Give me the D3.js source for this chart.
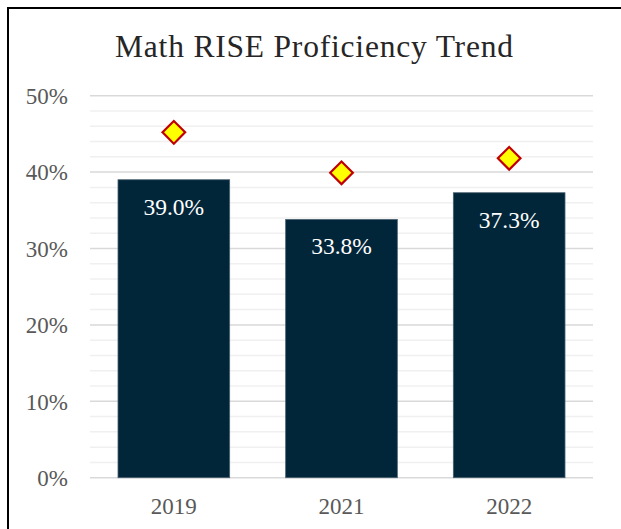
<!DOCTYPE html>
<html>
<head>
<meta charset="utf-8">
<script src="https://cdn.jsdelivr.net/npm/d3@7"></script>
<style>
  html, body { margin: 0; padding: 0; background: #fff; }
  svg { display: block; }
  svg text { font-family: "Liberation Serif", "Times New Roman", serif; }
</style>
</head>
<body>
<script>
const categories = ["2019", "2021", "2022"];
const proficiency = [39.0, 33.8, 37.3];
const target = [45.2, 39.9, 41.8];
const majorTicks = [0, 10, 20, 30, 40, 50];
const minorTicks = [2, 4, 6, 8, 12, 14, 16, 18, 22, 24, 26, 28, 32, 34, 36, 38, 42, 44, 46, 48];
const title = "Math RISE Proficiency Trend";

const W = 621, H = 529;
const SERIF = "'Liberation Serif', 'Times New Roman', serif";
const svg = d3.select("body").append("svg").attr("width", W).attr("height", H);

// frame
svg.append("rect").attr("x", 8).attr("y", 8).attr("width", 640).attr("height", 560)
  .attr("fill", "#fff").attr("stroke", "#000").attr("stroke-width", 2);

const x = d3.scaleBand().domain(categories).range([90, 593]).paddingInner(0.334).paddingOuter(0.167);
const y = d3.scaleLinear().domain([0, 50]).range([477.7, 95.7]);

// minor grid
svg.append("g").selectAll("line").data(minorTicks).join("line")
  .attr("x1", 90).attr("x2", 593)
  .attr("y1", d => y(d)).attr("y2", d => y(d))
  .attr("stroke", "#f0f0f0").attr("stroke-width", 1.5);

// major grid
svg.append("g").selectAll("line").data(majorTicks).join("line")
  .attr("x1", 90).attr("x2", 593)
  .attr("y1", d => y(d)).attr("y2", d => y(d))
  .attr("stroke", "#d9d9d9").attr("stroke-width", 1.5);

// y axis labels
const yAxis = d3.axisLeft(y).tickValues(majorTicks).tickFormat(d => d + "%").tickSize(0).tickPadding(0);
const gy = svg.append("g").attr("transform", "translate(68,0)").call(yAxis)
  .attr("font-family", SERIF).attr("font-size", 23);
gy.select(".domain").remove();
gy.selectAll("text").style("font-family", SERIF).style("font-size", "23px")
  .attr("fill", "#595959").attr("dy", "0.34em");

// x axis labels
const xAxis = d3.axisBottom(x).tickSize(0).tickPadding(0);
const gx = svg.append("g").attr("transform", "translate(0,497)").call(xAxis)
  .attr("font-family", SERIF).attr("font-size", 23);
gx.select(".domain").remove();
gx.selectAll("text").style("font-family", SERIF).style("font-size", "23px")
  .attr("fill", "#595959").attr("dy", "0.72em");

// bars
svg.append("g").selectAll("rect").data(categories).join("rect")
  .attr("x", d => x(d)).attr("width", x.bandwidth())
  .attr("y", (d, i) => y(proficiency[i]))
  .attr("height", (d, i) => y(0) - y(proficiency[i]))
  .attr("fill", "#012639").attr("stroke", "#4a6070").attr("stroke-width", 0.8);

// bar labels
svg.append("g").selectAll("text").data(categories).join("text")
  .attr("x", d => x(d) + x.bandwidth() / 2)
  .attr("y", (d, i) => y(proficiency[i]) + 35)
  .attr("text-anchor", "middle")
  .style("font-family", SERIF).style("font-size", "23.5px")
  .attr("fill", "#ffffff")
  .text((d, i) => proficiency[i].toFixed(1) + "%");

// diamonds
const diamond = d3.symbol().type(d3.symbolSquare).size(16 * 16);
svg.append("g").selectAll("path").data(categories).join("path")
  .attr("d", diamond)
  .attr("transform", (d, i) => `translate(${x(d) + x.bandwidth() / 2},${y(target[i])}) rotate(45)`)
  .attr("fill", "#ffff00").attr("stroke", "#c00000").attr("stroke-width", 2.2);

// title
svg.append("text").attr("x", 314).attr("y", 57.3).attr("text-anchor", "middle")
  .style("font-family", SERIF).style("font-size", "31.5px")
  .attr("textLength", 398).attr("lengthAdjust", "spacing")
  .attr("fill", "#262626")
  .text(title);
</script>
</body>
</html>
